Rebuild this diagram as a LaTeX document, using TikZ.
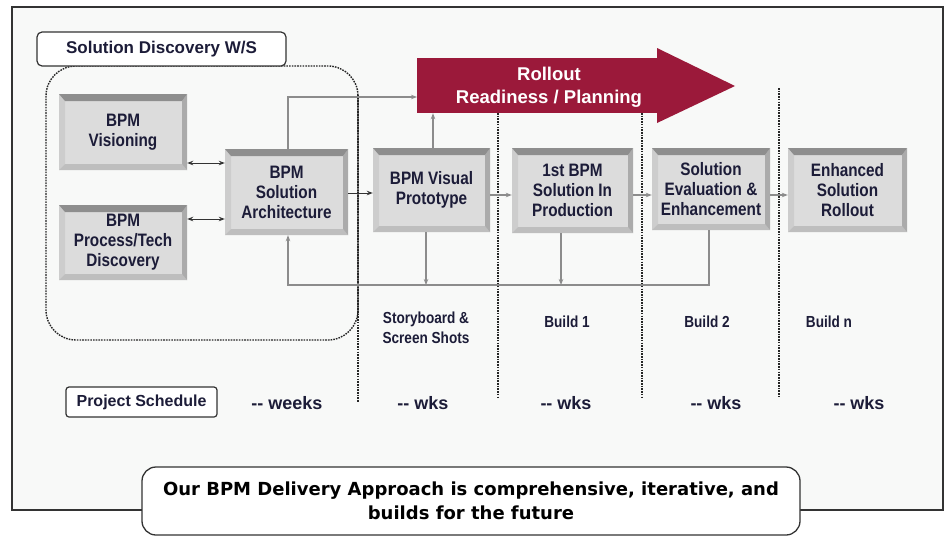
\documentclass[tikz,border=0pt]{standalone}
\usepackage{fontspec}
\setmainfont{Liberation Sans}
\newfontfamily\cf[FakeStretch=0.85]{Liberation Sans}
\newfontfamily\nf{Liberation Sans}
\newfontfamily\dvfont{DejaVu Sans}
\usetikzlibrary{arrows.meta,calc}
\definecolor{maroon}{RGB}{155,25,58}
\definecolor{navy}{HTML}{1C1C38}
\definecolor{face}{HTML}{DCDCDC}
\definecolor{btop}{HTML}{8E8E8E}
\definecolor{bright}{HTML}{ABABAB}
\definecolor{bbot}{HTML}{BEBEBE}
\definecolor{bleft}{HTML}{CDCDCD}
\definecolor{gline}{HTML}{8C8C8C}
\definecolor{dline}{HTML}{333333}
\definecolor{bg}{HTML}{F8F9F8}
\tikzset{
  bx/.style 2 args={minimum width=#1pt, minimum height=#2pt, inner sep=0pt,
    fill=face, align=center, text=navy,
    font=\cf\bfseries\fontsize{18}{20}\selectfont,
    path picture={
      \path (path picture bounding box.north west) coordinate (pnw)
            (path picture bounding box.north east) coordinate (pne)
            (path picture bounding box.south east) coordinate (pse)
            (path picture bounding box.south west) coordinate (psw);
      \fill[bleft] (psw) -- (pnw) -- ([shift={(6pt,-7pt)}]pnw) -- ([shift={(6pt,6pt)}]psw) -- cycle;
      \fill[bbot] (psw) -- (pse) -- ([shift={(-5pt,6pt)}]pse) -- ([shift={(6pt,6pt)}]psw) -- cycle;
      \fill[bright] (pse) -- (pne) -- ([shift={(-5pt,-7pt)}]pne) -- ([shift={(-5pt,6pt)}]pse) -- cycle;
      \fill[btop] (pnw) -- (pne) -- ([shift={(-5pt,-7pt)}]pne) -- ([shift={(6pt,-7pt)}]pnw) -- cycle;
    }},
  gc/.style={draw=gline, line width=1.1pt},
  garr/.style={gc, -{Stealth[length=6pt,width=4.5pt]}},
  barr/.style={draw=dline, line width=1pt, {Stealth[length=6pt,width=4.5pt]}-{Stealth[length=6pt,width=4.5pt]}},
  karr/.style={draw=dline, line width=1pt, -{Stealth[length=6pt,width=4.5pt]}},
  dotln/.style={draw=black!85, line width=1.4pt, dash pattern=on 1.6pt off 1.1pt},
  lbl/.style={draw=dline, line width=1.2pt, fill=white, text=navy},
  sub/.style={text=navy, align=center, font=\cf\bfseries\fontsize{16}{20}\selectfont},
  wk/.style={text=navy, font=\nf\bfseries\fontsize{18}{20}\selectfont},
}
\begin{document}
\begin{tikzpicture}[x=1pt,y=-1pt]
\useasboundingbox (0,0) rectangle (947,536);
\fill[white] (0,0) rectangle (947,536);
% frame
\draw[fill=bg, draw=dline, line width=1.4pt] (12,7) rectangle (943,510);
% dotted region and separators
\draw[dotln, rounded corners=30pt] (46,66) rectangle (358,340);
\draw[dotln] (358,95) -- (358,402);
\draw[dotln] (498,113) -- (498,398);
\draw[dotln] (642,113) -- (642,398);
\draw[dotln] (779,88) -- (779,398);
% label box
\node[lbl, rounded corners=5pt, minimum width=249pt, minimum height=34pt,
  font=\nf\bfseries\fontsize{17}{20}\selectfont] (sdws) at (161.5,49) {Solution Discovery W/S};
% boxes
\node[bx={128}{76}] (vis) at (123,132) {BPM\\Visioning};
\node[bx={128}{75}] (proc) at (123,242.5) {BPM\\Process/Tech\\Discovery};
\node[bx={123}{86}] (arch) at (286.5,192) {BPM\\Solution\\Architecture};
\node[bx={117}{84}] (proto) at (431.5,190) {BPM Visual\\Prototype};
\node[bx={121}{85}] (first) at (572.5,190.5) {1st BPM\\Solution In\\Production};
\node[bx={118}{82}] (eval) at (711,189) {Solution\\Evaluation \&\\Enhancement};
\node[bx={119}{84}] (enh) at (847.5,190) {Enhanced\\Solution\\Rollout};
% red arrow
\node[fill=maroon, minimum width=241pt, minimum height=55pt, inner sep=0pt] (roll) at (537.5,85.5) {};
\fill[maroon] (657,48) -- (735,86) -- (657,123) -- cycle;
\node[text=white, align=center, font=\nf\bfseries\fontsize{18.5}{23}\selectfont] (rolltxt) at (549,87) {Rollout\\Readiness / Planning};
% helper coordinates
\coordinate (ya) at (0,163);
\coordinate (yb) at (0,219);
\coordinate (yc) at (0,193);
\coordinate (yd) at (0,195);
\coordinate (fb) at (0,285);
\coordinate (rin) at (417,97);
% connectors
\draw[barr] (vis.east |- ya) -- (arch.west |- ya);
\draw[barr] (proc.east |- yb) -- (arch.west |- yb);
\draw[karr] (arch.east |- yc) -- (proto.west |- yc);
\draw[garr] (proto.east |- yd) -- (first.west |- yd);
\draw[garr] (first.east |- yd) -- (eval.west |- yd);
\draw[garr] (eval.east |- yd) -- (enh.west |- yd);
\draw[garr] ([xshift=1.5pt]arch.north) |- (rin);
\draw[garr] ([xshift=1.5pt]proto.north) -- ([xshift=1.5pt]proto.north |- roll.south);
\draw[garr] ([xshift=-2pt]eval.south) -- ([xshift=-2pt]eval.south |- fb) -| ([xshift=1.5pt]arch.south);
\draw[garr] ([xshift=-5.5pt]proto.south) -- ([xshift=-5.5pt]proto.south |- fb);
\draw[garr] ([xshift=-11.5pt]first.south) -- ([xshift=-11.5pt]first.south |- fb);
% sub labels
\node[sub] (sb) at (426,328) {Storyboard \&\\Screen Shots};
\node[sub] (b1) at (567,322) {Build 1};
\node[sub] (b2) at (707,322) {Build 2};
\node[sub] (bn) at (829,322) {Build n};
% schedule row
\node[lbl, rounded corners=3pt, minimum width=151pt, minimum height=30pt,
  font=\nf\bfseries\fontsize{16}{20}\selectfont] (ps) at (141.5,402) {Project Schedule};
\node[wk] (w0) at (287,403) {-{}- weeks};
\node[wk] (w1) at (423,403) {-{}- wks};
\node[wk] (w2) at (566,403) {-{}- wks};
\node[wk] (w3) at (716,403) {-{}- wks};
\node[wk] (w4) at (859,403) {-{}- wks};
% message box
\node[draw=dline, line width=1.3pt, fill=white, rounded corners=14pt,
  minimum width=658pt, minimum height=68pt, align=center, text=black,
  font=\dvfont\bfseries\fontsize{18}{24}\selectfont] (msg) at (471,501)
  {Our BPM Delivery Approach is comprehensive, iterative, and\\builds for the future};
\end{tikzpicture}
\end{document}
